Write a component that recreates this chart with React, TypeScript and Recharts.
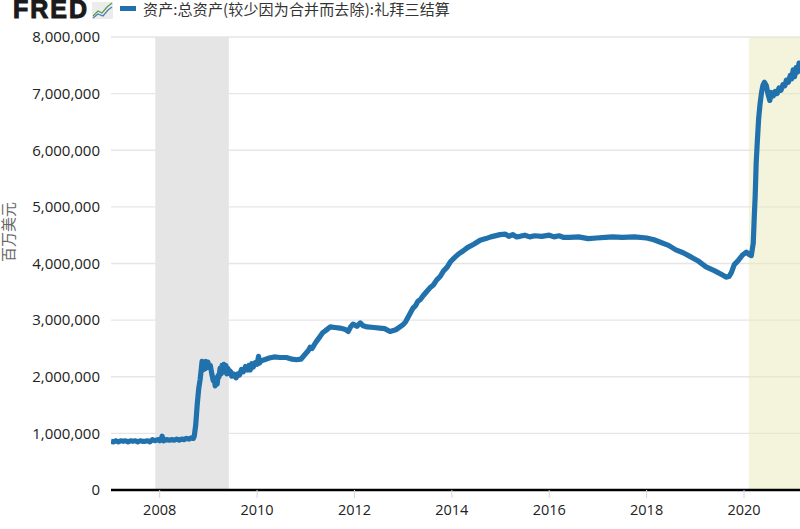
import React from 'react'
import {
  LineChart, Line, XAxis, YAxis, CartesianGrid, ReferenceArea,
} from 'recharts'

const seriesName = '资产:总资产(较少因为合并而去除):礼拜三结算'
const yAxisTitle = '百万美元'

const xTicks = [2008, 2010, 2012, 2014, 2016, 2018, 2020]
const yTicks = [0, 1000000, 2000000, 3000000, 4000000, 5000000, 6000000, 7000000, 8000000]

const recession = [2007.91, 2009.42]
const covid = [2020.1, 2021.15]

// decimal years
const years = [
  2007.0, 2007.05, 2007.1, 2007.15, 2007.2, 2007.25, 2007.3, 2007.35, 2007.4, 2007.45,
  2007.5, 2007.55, 2007.6, 2007.65, 2007.7, 2007.75, 2007.8, 2007.85, 2007.9, 2007.96,
  2008.0, 2008.03, 2008.05, 2008.08, 2008.14, 2008.2, 2008.25, 2008.3, 2008.35, 2008.4,
  2008.45, 2008.5, 2008.55, 2008.6, 2008.65, 2008.69, 2008.71, 2008.74, 2008.77, 2008.8,
  2008.83, 2008.85, 2008.87, 2008.89, 2008.91, 2008.93, 2008.95, 2008.97, 2008.99, 2009.01,
  2009.04, 2009.07, 2009.1, 2009.12, 2009.14, 2009.16, 2009.18, 2009.2, 2009.22, 2009.24,
  2009.26, 2009.28, 2009.3, 2009.32, 2009.34, 2009.36, 2009.38, 2009.4, 2009.42, 2009.45,
  2009.48, 2009.52, 2009.57, 2009.6, 2009.64, 2009.68, 2009.72, 2009.76, 2009.8, 2009.83,
  2009.86, 2009.89, 2009.92, 2009.96, 2010.0, 2010.03, 2010.05, 2010.08, 2010.15, 2010.25,
  2010.35, 2010.47, 2010.6, 2010.72, 2010.81, 2010.9, 2011.0, 2011.05, 2011.09, 2011.13,
  2011.2, 2011.25, 2011.3, 2011.35, 2011.4, 2011.5, 2011.6, 2011.7, 2011.8, 2011.87,
  2011.92, 2011.97, 2012.05, 2012.12, 2012.18, 2012.26, 2012.4, 2012.52, 2012.62, 2012.73,
  2012.85, 2013.0, 2013.05, 2013.1, 2013.15, 2013.2, 2013.25, 2013.3, 2013.35, 2013.41,
  2013.48, 2013.55, 2013.62, 2013.69, 2013.76, 2013.83, 2013.9, 2013.97, 2014.05, 2014.14,
  2014.23, 2014.32, 2014.45, 2014.58, 2014.7, 2014.8, 2014.99, 2015.1, 2015.17, 2015.25,
  2015.33, 2015.4, 2015.5, 2015.6, 2015.7, 2015.85, 2016.0, 2016.1, 2016.2, 2016.3,
  2016.42, 2016.6, 2016.8, 2016.97, 2017.15, 2017.3, 2017.5, 2017.75, 2018.0, 2018.15,
  2018.27, 2018.45, 2018.6, 2018.75, 2018.88, 2019.05, 2019.22, 2019.4, 2019.55, 2019.63,
  2019.69, 2019.74, 2019.8, 2019.88, 2019.97, 2020.05, 2020.1, 2020.15, 2020.19, 2020.21,
  2020.23, 2020.25, 2020.27, 2020.3, 2020.33, 2020.36, 2020.39, 2020.42, 2020.46, 2020.49,
  2020.53, 2020.56, 2020.6, 2020.64, 2020.68, 2020.72, 2020.76, 2020.8, 2020.84, 2020.87,
  2020.91, 2020.95, 2020.98, 2021.01, 2021.04, 2021.07, 2021.1, 2021.13, 2021.15,
]

// millions of dollars
const assets = [
  0.86, 0.85, 0.87, 0.85, 0.87, 0.86, 0.87, 0.85, 0.87, 0.86,
  0.87, 0.85, 0.87, 0.86, 0.86, 0.87, 0.85, 0.89, 0.87, 0.89,
  0.87, 0.89, 0.95, 0.87, 0.89, 0.88, 0.89, 0.88, 0.9, 0.88,
  0.9, 0.89, 0.91, 0.9, 0.92, 0.91, 0.95, 1.15, 1.5, 1.78,
  1.95, 2.1, 2.27, 2.12, 2.25, 2.14, 2.27, 2.16, 2.26, 2.17,
  2.2, 2.05, 1.93, 1.98, 1.84, 1.92, 1.87, 2.02, 2.0, 2.15,
  2.05, 2.2, 2.08, 2.22, 2.12, 2.2, 2.05, 2.15, 2.06, 2.1,
  2.01, 2.05, 1.98, 2.05, 2.03, 2.13, 2.09, 2.18, 2.12, 2.2,
  2.12, 2.23, 2.17, 2.25, 2.22, 2.36, 2.24, 2.28, 2.3, 2.33,
  2.35, 2.34, 2.34, 2.31, 2.3, 2.31, 2.41, 2.46, 2.52, 2.5,
  2.6, 2.66, 2.72, 2.78, 2.81, 2.88, 2.87, 2.86, 2.84, 2.8,
  2.88, 2.93, 2.89, 2.95, 2.9, 2.88, 2.87, 2.86, 2.85, 2.8,
  2.83, 2.92, 2.97, 3.05, 3.13, 3.21, 3.25, 3.33, 3.36, 3.43,
  3.5, 3.57, 3.62, 3.71, 3.77, 3.87, 3.93, 4.03, 4.1, 4.17,
  4.22, 4.28, 4.34, 4.41, 4.44, 4.47, 4.51, 4.52, 4.48, 4.51,
  4.47, 4.48, 4.5, 4.47, 4.49, 4.48, 4.5, 4.47, 4.49, 4.46,
  4.46, 4.47, 4.44, 4.45, 4.46, 4.47, 4.46, 4.47, 4.45, 4.42,
  4.38, 4.32, 4.24, 4.19, 4.13, 4.05, 3.94, 3.87, 3.8, 3.76,
  3.77, 3.84, 3.98, 4.05, 4.15, 4.2, 4.16, 4.14, 4.36, 4.8,
  5.2, 5.77, 6.1, 6.55, 6.82, 7.02, 7.15, 7.2, 7.14, 7.0,
  6.88, 7.02, 6.96, 7.04, 7.0, 7.1, 7.06, 7.16, 7.14, 7.24,
  7.2, 7.32, 7.26, 7.42, 7.3, 7.46, 7.38, 7.54, 7.48,
]

const data = years.map((year, i) => ({ year, value: assets[i] * 1000000 }))

const font = '"Open Sans", sans-serif'

function Logo() {
  return (
    <div style={{ position: 'absolute', left: 13, top: 0, width: 104, height: 20 }}>
      <span style={{
        fontFamily: '"Liberation Sans", sans-serif', fontWeight: 700, fontSize: 25, lineHeight: '18px',
        color: '#1a1a1a', WebkitTextStroke: '1px #1a1a1a', letterSpacing: 2, display: 'block',
      }}>FRED</span>
      <svg width={21} height={17} style={{ position: 'absolute', left: 79, top: 2 }}>
        <rect width={21} height={17} fill="#ececec" />
        <polyline points="1,14 6,9 10,11 15,5 20,1" fill="none" stroke="#5a9a4a" strokeWidth={1.2} />
        <polyline points="1,16 6,12 11,14 16,8 20,5" fill="none" stroke="#4a7fb0" strokeWidth={1.2} />
      </svg>
    </div>
  )
}

export default function App() {
  return (
    <div style={{ position: 'absolute', left: 0, top: 0, width: 800, height: 529, overflow: 'hidden', background: '#fff' }}>
      <LineChart
        width={800}
        height={529}
        data={data}
        margin={{ top: 37, right: 0, bottom: 0, left: 0 }}
      >
        <CartesianGrid horizontal vertical={false} stroke="#e6e6e6" strokeWidth={1.3} />
        <ReferenceArea x1={recession[0]} x2={recession[1]} fill="#e5e5e5" fillOpacity={1} stroke="none" />
        <ReferenceArea x1={covid[0]} x2={covid[1]} fill="#e9e9b9" fillOpacity={0.5} stroke="none" />
        <XAxis
          dataKey="year"
          type="number"
          domain={[2007, 2021.15]}
          ticks={xTicks}
          height={39}
          allowDataOverflow
          stroke="#000"
          strokeWidth={2.5}
          tickLine={{ stroke: '#ccd6eb', strokeWidth: 1 }}
          tickSize={8}
          tickMargin={7}
          tick={{ fontSize: 14.5, fontFamily: font, fill: '#222' }}
        />
        <YAxis
          type="number"
          domain={[0, 8000000]}
          ticks={yTicks}
          width={111}
          axisLine={false}
          tickLine={false}
          tickSize={0}
          tickMargin={11}
          tickFormatter={(v) => Number(v).toLocaleString('en-US')}
          tick={{ fontSize: 15, fontFamily: font, fill: '#222' }}
        />
        <Line
          dataKey="value"
          type="linear"
          stroke="#2171ad"
          strokeWidth={5.2}
          strokeLinejoin="round"
          dot={false}
          isAnimationActive={false}
        />
      </LineChart>

      <Logo />
      <div style={{ position: 'absolute', left: 120, top: 6, width: 16, height: 5, background: '#2171ad' }} />
      <div style={{
        position: 'absolute', left: 143, top: 0, fontSize: 15, lineHeight: '17px', whiteSpace: 'nowrap',
        fontFamily: '"Noto Sans CJK SC", sans-serif', color: '#333', letterSpacing: 0.15,
      }}>{seriesName}</div>
      <div style={{
        position: 'absolute', left: -25, top: 222, width: 66, textAlign: 'center', fontSize: 15,
        lineHeight: '20px', transform: 'rotate(-90deg)', whiteSpace: 'nowrap',
        fontFamily: '"Noto Sans CJK SC", sans-serif', color: '#666',
      }}>{yAxisTitle}</div>
    </div>
  )
}
